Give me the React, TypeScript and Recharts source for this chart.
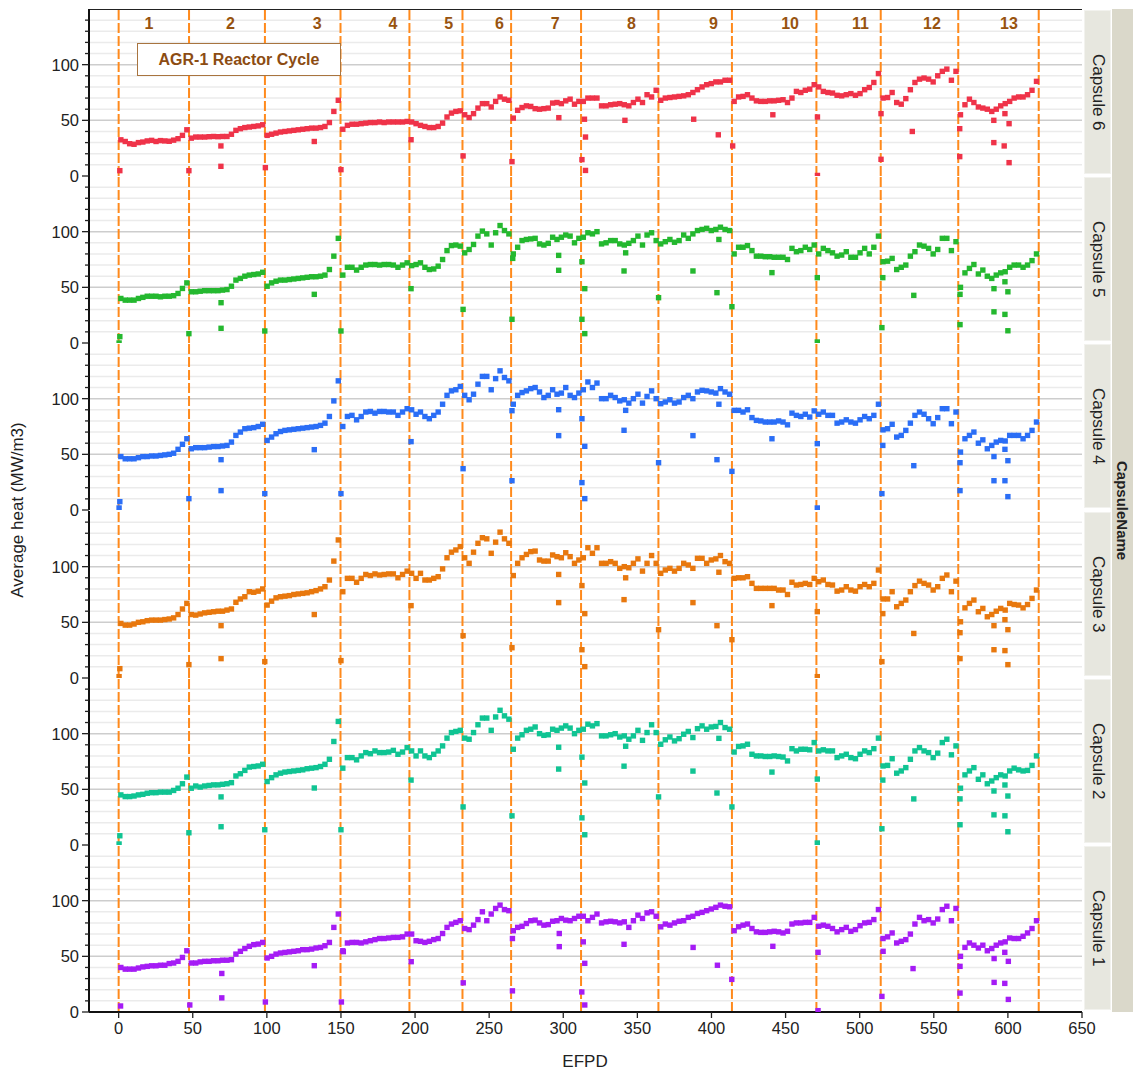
import React from 'react'
import { ScatterChart, Scatter, XAxis, YAxis, ReferenceLine } from 'recharts'

// EFPD at each ATR cycle boundary (orange dashed lines)
const cycleBounds = [0, 47.5, 98.7, 149.7, 196.2, 232, 264.8, 312, 364.2, 413.8, 470.8, 514.2, 566.5, 620.8]
const cycleNames = ['1', '2', '3', '4', '5', '6', '7', '8', '9', '10', '11', '12', '13']
const cycleLabelEfpd = [20.4, 75.4, 133.9, 185, 222.7, 257, 294.6, 346, 401.4, 453, 500.5, 548.8, 600.7]
const cycleLabelHeat = 137

const xTicks = [0, 50, 100, 150, 200, 250, 300, 350, 400, 450, 500, 550, 600, 650]
const yTicks = [0, 10, 20, 30, 40, 50, 60, 70, 80, 90, 100, 110, 120, 130, 140]
const gridMinor = [10, 20, 30, 40, 60, 70, 80, 90, 110, 120, 130, 140]
const gridMajor = [50, 100]

// average heat per cycle (one list per reactor cycle)
const capsule6 = [
  [32.5, 31, 29, 28.5, 30, 30.5, 31.5, 32, 31, 31.8, 31.5, 31.2, 32.2, 33.5, 36.5, 41.5],
  [34, 35, 35, 35, 35.3, 35.5, 35.3, 35.5, 35.5, 37.5, 41, 42.5, 43.5, 44, 44.5, 45, 46],
  [36.5, 37.5, 38.5, 39.5, 40, 40.5, 41, 41.5, 42, 42.5, 43, 43, 43.5, 44.5, 48, 58, 68],
  [42, 45.5, 46.5, 46.5, 47, 47.5, 48, 48, 48.5, 48, 48.5, 48.5, 48.5, 48.5, 49],
  [48.5, 47, 45.5, 44.5, 43.5, 43.5, 44.5, 47.5, 53, 56.5, 58, 58.5],
  [55, 52.5, 56, 61, 65, 65, 62, 67, 71, 69, 68],
  [52, 59, 61.5, 63, 62.5, 60.5, 60, 60.5, 61, 65.5, 66, 65, 67.5, 69, 64.5, 67],
  [67, 70, 70, 70, 63, 63, 64, 64.5, 65, 64, 63, 66, 69, 66, 73, 71, 77],
  [68, 70, 70.5, 71, 71.5, 72, 73, 75, 77.5, 80, 82, 83, 84.5, 84.5, 86, 86],
  [67, 71, 71.5, 73, 70, 67.5, 67, 67, 67.5, 67.5, 68, 68.5, 66, 70, 76, 75, 77, 78, 82],
  [80, 76, 75, 74.5, 72.5, 72, 73, 74, 72.5, 74, 77.5, 79.5, 84, 92],
  [70, 70.5, 75, 66, 64.5, 69.5, 77.5, 84, 87, 88, 87, 84.5, 90, 94, 96, 86, 94],
  [55, 64, 69, 66, 62, 61, 60, 58, 60, 63, 65, 67, 70, 71, 71, 73, 77, 85],
]
const capsule6Extra = [
  [0.8, 4.8], [47.4, 4.8], [69, 27], [69, 8.7], [99, 7.5], [132, 31], [150, 5.7], [197.3, 32.6],
  [232.4, 18], [265.4, 12.9], [297, 52.4], [312.6, 14.7], [314.3, 51], [315, 35], [315, 5],
  [341.6, 50], [388, 51], [404.6, 37], [414.3, 27], [441.4, 55], [471.5, 53], [471.5, 0.5],
  [514.4, 56], [514.4, 15], [535.5, 40], [567.5, 42.5], [567.5, 17.4], [590.5, 50], [590.5, 30],
  [598, 56], [600.8, 47], [597.5, 27], [600.8, 12],
]

const capsule5 = [
  [40, 38.5, 38.5, 38.5, 40, 41, 42, 42, 42, 41.5, 42, 42, 42.5, 44.5, 49, 54],
  [46, 46, 46.5, 47, 47, 47, 47, 47.5, 48, 51, 56.5, 58, 60, 61, 61.5, 62, 63.5],
  [51, 54, 55.5, 56.5, 56.5, 57, 57.5, 58, 58.5, 59, 59.5, 59.5, 60, 61, 66, 78, 94],
  [61, 68, 68, 65.5, 68, 70, 70.5, 70.5, 70, 70.5, 70.5, 70, 68, 70, 72],
  [69.5, 70.5, 72, 68, 66, 66.5, 69, 75, 83, 87.5, 88, 87],
  [81, 84, 88.5, 96, 100.5, 98, 88, 99, 105.5, 101, 98],
  [80, 86, 92, 93, 93.5, 94, 89, 88, 89.5, 95, 93, 95, 97, 96, 90, 94],
  [95, 99, 98, 100, 89, 90, 92, 92, 89, 88, 89.5, 92, 96, 88, 97, 99, 92],
  [89, 91, 93, 90.5, 92, 97, 94, 98, 101, 102, 103, 101, 102, 104, 102, 101],
  [80, 86, 86, 87.5, 83, 78, 78, 77.5, 77.5, 77, 77, 77, 75, 85, 82, 83, 86, 84, 88],
  [80, 85, 83, 81, 78, 79, 82, 77, 77, 81, 85, 80, 86, 96],
  [73, 73.5, 76, 66, 68, 70, 78, 82, 88, 87, 85, 80, 84, 94, 94, 83, 91],
  [50, 63, 67, 70.5, 62, 65.5, 60, 58, 61, 63, 64, 68, 70, 70, 68, 70, 74, 80],
]
const capsule5Extra = [
  [0.8, 5.7], [0.3, 0], [47.4, 8.4], [69.1, 36.2], [69.1, 13.2], [98.6, 10.8], [132, 43.7], [150, 10.8],
  [197.3, 48.8], [232.4, 30.2], [265.9, 76], [265.4, 21.3], [296.9, 78.7], [296.9, 65.3], [312.6, 73],
  [314.5, 48.8], [312.6, 21.3], [314.5, 8.4], [342.1, 81], [341, 64.7], [364.3, 40.7], [387.5, 64.7],
  [405, 93], [403.7, 45.2], [413.8, 32.6], [440.8, 63.2], [471.4, 58.7], [471.4, 0.9], [515.6, 58.7],
  [515, 13.8], [536.5, 42.8], [567.7, 43.7], [567.7, 16.5], [590.6, 48.8], [590.6, 28], [598, 55],
  [600, 46], [598, 25.7], [600, 11],
]

const capsule4 = [
  [48, 46, 46, 46, 47, 48, 48, 48.5, 48.5, 49, 49.5, 50, 51, 54.5, 59, 64],
  [55, 56, 56, 56, 56.5, 57, 57, 57.5, 58, 61, 67, 70, 73, 73.5, 74, 75, 77],
  [62.5, 65.5, 68.5, 70.5, 71.5, 72, 72.5, 73, 73.5, 74, 74.5, 75, 76, 78, 84, 98, 116],
  [75, 84, 85, 81, 84, 88, 88.5, 87, 88.5, 88.5, 88, 88, 85, 88, 91],
  [90, 86, 88, 84, 82, 85, 88, 95, 103, 107, 108, 111],
  [103, 99, 104, 113, 120, 120, 108, 118, 125, 119, 116],
  [95, 103, 105.5, 107, 109, 110, 106, 101, 103, 108, 104, 105, 110, 103, 101, 105],
  [108, 115, 110, 114, 100, 100, 103, 101, 98, 99, 96, 100, 104, 96, 102, 107, 100],
  [95.5, 97, 99, 96, 97, 101, 103, 100, 106, 107.5, 107, 106, 105, 109, 106, 104],
  [89.5, 89.5, 88, 90, 83, 80.5, 80, 79, 79, 79, 80, 79, 76.5, 87, 85, 84, 86, 83.5, 89],
  [86, 88, 85, 85, 78, 79, 81, 79, 78, 81, 84, 82, 85, 95],
  [72, 73, 77, 65.5, 67, 71.5, 78, 85, 88, 86, 82, 77.5, 83, 91, 91, 77.5, 88],
  [52, 64, 67, 70, 60, 63, 55, 58, 61, 62.5, 62, 67, 67, 67, 64, 67, 71.5, 79],
]
const capsule4Extra = [
  [0.8, 7.5], [0.3, 1.8], [47.4, 10.2], [69.1, 45.2], [69.1, 17.4], [98.6, 14.7], [132, 54.2], [150, 14.7],
  [197.3, 61.4], [232.4, 37.1], [265.4, 26.3], [265.4, 89.2], [296.9, 90.1], [296.9, 66.8], [312.6, 82],
  [314.5, 57.2], [312.6, 24.6], [314.5, 10.2], [341, 71.6], [342.1, 89.5], [364.3, 42.5], [387.5, 66.8],
  [405, 95], [403.7, 45.2], [413.8, 34.7], [440.8, 64], [471.4, 59.6], [471.4, 1.8], [515.6, 58],
  [515, 14.7], [536.5, 39.8], [567.7, 42.5], [567.7, 17.4], [590.6, 48], [590.6, 26.3], [598, 54.5],
  [600, 44.3], [598, 26.3], [600, 12],
]

const capsule3 = [
  [49, 47.5, 47.5, 48.5, 50, 50.5, 51.5, 52, 52, 52, 52.5, 53, 54, 57, 62, 67],
  [57, 56.5, 57.5, 58.5, 59, 59.5, 60, 60, 61, 62, 68, 71, 73, 77.5, 77, 78, 80],
  [65.5, 69, 72, 73, 73.5, 74, 75, 75.5, 76, 76.5, 77.5, 78.5, 80, 82, 88, 105, 124],
  [77.5, 89.5, 89.5, 86, 89.5, 93, 92, 93.5, 92.5, 93, 93.5, 93.5, 90, 93, 96],
  [94, 89.5, 94, 88, 88, 89.5, 91, 98, 108, 113, 115, 118],
  [108, 103, 113, 121, 126, 125, 112, 122, 131, 125, 121],
  [92, 103, 108, 111, 113.5, 114, 106, 105, 105, 110.5, 109, 108, 112.5, 109, 103, 106],
  [108, 117, 112, 117, 103, 103, 104.5, 103, 98.5, 100, 99, 103, 107, 96, 103, 110, 103],
  [94, 97, 98.5, 96, 98.5, 103, 101.5, 98.5, 107.5, 107.5, 103, 106, 107, 110, 104.5, 103],
  [89.5, 90, 90, 91, 85, 80.5, 80.5, 80.5, 80.5, 80.5, 79, 79, 75, 86, 83.5, 84, 85, 84, 89.5],
  [86.5, 88, 84, 83.5, 78, 79, 82, 79, 78, 82, 84, 82, 85, 97],
  [71, 71, 77.5, 64, 67, 70, 77.5, 83, 87, 85, 83.5, 79, 82, 89.5, 92.5, 77.5, 87],
  [50.5, 63, 67, 70, 59.5, 62.5, 55, 57, 60, 62.5, 61, 67, 66, 65.5, 63, 66, 71.5, 79],
]
const capsule3Extra = [
  [0.8, 8.4], [0.3, 1.2], [47.4, 12], [69.1, 47], [69.1, 17.4], [98.6, 14.7], [132, 57], [150, 15.6],
  [197.3, 65], [232.4, 38], [265.4, 27.2], [296.9, 93], [296.9, 67.7], [312.6, 83], [314.5, 57.8],
  [312.6, 25.4], [314.5, 10.2], [342.1, 90], [341, 70.4], [364.3, 43.4], [387.5, 67.7], [405, 95],
  [403.7, 47], [413.8, 34.4], [440.8, 65], [471.4, 59.6], [471.4, 1.2], [515.6, 57.8], [515, 14.7],
  [536.5, 40], [567.7, 40.7], [567.7, 17.4], [590.6, 47], [590.6, 25.4], [598, 52.4], [600, 43.4],
  [598, 24.6], [600, 12],
]

const capsule2 = [
  [45, 43.5, 43.5, 44, 45, 45.5, 46.5, 47, 47, 47.5, 47.5, 47.5, 49, 51, 55, 61],
  [51, 53, 52, 53, 53.5, 54, 54, 54.5, 55, 56, 62, 64, 67, 70, 70.5, 71, 72.5],
  [57, 60.5, 63, 64.5, 65.5, 66, 66.5, 67, 67.5, 68.5, 69, 69.5, 70.5, 72.5, 77, 93, 111],
  [69, 78.5, 78.5, 76.5, 80, 83, 82, 84.5, 83, 83, 83.5, 85, 81.5, 83.5, 87.5],
  [84.5, 80, 84.5, 80, 78.5, 81.5, 84.5, 89, 96, 101, 102, 103],
  [96, 95, 101, 108, 114, 114, 103, 115, 121, 116, 113],
  [86, 96, 99, 103, 104, 106, 100, 98.5, 99, 104, 103, 105, 107, 105, 100, 103],
  [104, 108.5, 107, 109, 98, 98, 99, 100, 97, 98, 95, 98, 103, 94, 101, 108, 101],
  [90.5, 94.5, 97, 93.5, 95.5, 99.5, 102, 96.5, 104.5, 107, 104, 106, 106.5, 110, 105.5, 104],
  [83.5, 88.5, 89, 90.5, 81.5, 80, 80, 79.5, 79.5, 80, 79.5, 79, 75.5, 86.5, 84.5, 86, 86, 85.5, 92],
  [84.5, 85.5, 84.5, 84.5, 78.5, 80, 81.5, 78.5, 77.5, 81.5, 84.5, 83, 86.5, 96],
  [71, 71.5, 77.5, 64.5, 66.5, 69.5, 77, 84.5, 87.5, 84.5, 83, 78.5, 82.5, 92, 95, 81, 89],
  [51, 63, 66.5, 69.5, 59, 63, 55, 57.5, 60.5, 63, 62, 66.5, 69, 67.5, 66.5, 67, 71.5, 80],
]
const capsule2Extra = [
  [0.8, 8.3], [0.3, 0.9], [47.4, 11], [69.1, 43.2], [69.1, 16.4], [98.6, 13.7], [132, 51.2], [150, 13.7],
  [197.3, 58.3], [232.4, 34.2], [265.4, 26.2], [296.9, 87.8], [296.9, 68.2], [312.6, 78.9], [314.5, 55.7],
  [312.6, 24.4], [314.5, 9.2], [342.1, 88.7], [341, 70.8], [364.3, 43.2], [387.5, 66.4], [405, 95.8],
  [403.7, 46.7], [413.8, 34.2], [440.8, 65.5], [471.4, 59.2], [471.4, 1.8], [515.6, 58.3], [515, 14.6],
  [536.5, 41.4], [567.7, 41.4], [567.7, 18.2], [590.6, 48.5], [590.6, 27.1], [598, 53.9], [600, 44],
  [598, 26.2], [600, 11.9],
]

const capsule1 = [
  [40, 38.5, 38.5, 38.5, 39.5, 40.5, 41, 41.5, 41.5, 42, 42, 43.5, 44, 45.5, 49, 55],
  [44, 44, 45, 45.5, 45.5, 46, 46, 46.5, 46.5, 47, 52, 54.5, 57, 59, 60.5, 61, 62.5],
  [48.5, 50, 52, 53, 53.5, 54, 54.5, 55, 56, 56, 56.5, 57.5, 58, 59.5, 62.5, 76, 88],
  [55, 62, 62.5, 62.5, 62, 63, 64, 65, 66, 66, 66.5, 67, 67, 67.5, 70],
  [70, 64, 63.5, 62.5, 63.5, 65, 66, 70.5, 76, 79, 80.5, 82],
  [75, 74, 78, 83, 90, 82, 88, 93, 96, 92, 91],
  [73, 76, 77, 79.5, 82, 82.5, 80, 78, 78.5, 81.5, 82, 84, 82.5, 82, 84, 86],
  [86, 82, 85, 88, 80, 81, 81.5, 81, 80, 81, 76, 82, 87, 84, 89, 90, 86],
  [76.5, 79, 78, 80, 81.5, 82, 85, 86, 88.5, 89.5, 91, 92.5, 94, 96, 95, 94.5],
  [73, 76.5, 78, 79, 75, 72, 71.5, 71.5, 72, 72.5, 72, 71, 72.5, 79, 80, 80, 80.5, 80.5, 85],
  [77, 78, 77, 75, 72, 74, 76, 72.5, 74, 77.5, 80, 80.5, 83, 92],
  [66, 67.5, 71, 62, 63.5, 65, 70, 79, 85, 82, 83, 80, 83.5, 92, 95, 82, 93],
  [50, 58, 62, 60, 57.5, 60, 55, 57, 60, 62, 63, 66.5, 66, 66, 68, 71, 75, 82],
]
const capsule1Extra = [
  [1.3, 5.4], [48, 6.3], [69.6, 34.6], [69.6, 12.7], [99, 9], [132, 41.6], [150.3, 9], [151.6, 54.2],
  [197.4, 45.2], [232.5, 26.2], [265.7, 19], [265.7, 66], [297.3, 70.5], [297.3, 58.7], [312.5, 18],
  [313.5, 63], [314.5, 43.7], [314.5, 6.3], [341, 60.8], [387.6, 58], [404, 42], [413.7, 29.3],
  [441.4, 59], [471.9, 53.6], [471.9, 1.2], [515.8, 54.5], [515, 14], [536, 39], [567.7, 41],
  [567.7, 17], [590.7, 48], [590.7, 26.6], [597.9, 53.6], [600.3, 45.5], [597.9, 25.7], [600.3, 11.3],
]

const capsules = [
  { name: 'Capsule 6', color: '#ef3349', main: capsule6, extra: capsule6Extra },
  { name: 'Capsule 5', color: '#24b82f', main: capsule5, extra: capsule5Extra },
  { name: 'Capsule 4', color: '#2b6ef6', main: capsule4, extra: capsule4Extra },
  { name: 'Capsule 3', color: '#e8780e', main: capsule3, extra: capsule3Extra },
  { name: 'Capsule 2', color: '#10c493', main: capsule2, extra: capsule2Extra },
  { name: 'Capsule 1', color: '#a51cf5', main: capsule1, extra: capsule1Extra },
]

const FONT = 'Arial, "Liberation Sans", Helvetica, sans-serif'
const BROWN = '#98530f'
const PANEL_H = 167
const X_AXIS_H = 45
const BOTTOM_PAD = 12 // room for the "0" label that hangs below each panel

// spread each cycle's daily readings across that cycle
function buildPoints(main: number[][], extra: number[][]) {
  const pts: { efpd: number; heat: number }[] = []
  main.forEach((vals, c) => {
    const start = cycleBounds[c]
    const step = (cycleBounds[c + 1] - start) / vals.length
    vals.forEach((v, i) => pts.push({ efpd: start + step * (i + 0.5), heat: v }))
  })
  extra.forEach(([x, y]) => pts.push({ efpd: x, heat: y }))
  return pts
}

const labelPoints = cycleNames.map((n, i) => ({ efpd: cycleLabelEfpd[i], heat: cycleLabelHeat, label: n }))

const squareShape = (color: string) => (props: any) => (
  <rect x={props.cx - 2.7} y={props.cy - 2.7} width={5.4} height={5.4} fill={color} />
)

const CycleLabel = (props: any) => (
  <text x={props.cx} y={props.cy} dy={6} textAnchor="middle" fontSize={16} fontWeight="bold"
    fontFamily={FONT} fill={BROWN}>
    {props.payload.label}
  </text>
)

const YTick = (props: any) => {
  const { x, y, payload } = props
  const major = payload.value % 50 === 0
  return (
    <g>
      <line x1={x - (major ? 7 : 4)} x2={x} y1={y} y2={y} stroke="#222" strokeWidth={1.3} />
      {major && (
        <text x={x - 10} y={y} dy={6} textAnchor="end" fontSize={16.5} fontFamily={FONT} fill="#222">
          {payload.value}
        </text>
      )}
    </g>
  )
}

function CapsulePanel({ capsule, index, last }: { capsule: any; index: number; last: boolean }) {
  const points = buildPoints(capsule.main, capsule.extra)
  return (
    <ScatterChart width={1110} height={last ? PANEL_H + X_AXIS_H : PANEL_H + BOTTOM_PAD}
      margin={{ top: 0, right: 28, bottom: last ? 0 : BOTTOM_PAD, left: 0 }}>
      {gridMinor.map(v => <ReferenceLine key={'g' + v} y={v} stroke="#ebebeb" strokeWidth={1.5} />)}
      {gridMajor.map(v => <ReferenceLine key={'G' + v} y={v} stroke="#cdcdcd" strokeWidth={1.5} />)}
      {index === 0 && <ReferenceLine y={150} stroke="#222" strokeWidth={2} />}
      {cycleBounds.map(b => (
        <ReferenceLine key={'c' + b} x={b} stroke="#ff8a1c" strokeWidth={2} strokeDasharray="10 3" />
      ))}
      <XAxis
        type="number"
        dataKey="efpd"
        domain={[-20, 650]}
        allowDataOverflow
        ticks={xTicks}
        interval={0}
        height={last ? X_AXIS_H : 0}
        tick={last ? { fontSize: 16.5, fill: '#222', fontFamily: FONT } : false}
        tickLine={last ? { stroke: '#222', strokeWidth: 1.3 } : false}
        tickSize={6}
        tickMargin={4}
        axisLine={{ stroke: last ? '#111' : '#333', strokeWidth: 2 }}
      />
      <YAxis
        type="number"
        dataKey="heat"
        domain={[0, 150]}
        allowDataOverflow
        ticks={yTicks}
        interval={0}
        width={89}
        tickSize={0}
        tickMargin={0}
        tickLine={false}
        tick={<YTick />}
        axisLine={{ stroke: '#111', strokeWidth: 2 }}
      />
      <Scatter data={points} fill={capsule.color} shape={squareShape(capsule.color)} isAnimationActive={false} />
      {index === 0 && <Scatter data={labelPoints} shape={<CycleLabel />} isAnimationActive={false} />}
    </ScatterChart>
  )
}

export default function App() {
  return (
    <div style={{ position: 'relative', width: 1133, height: 1072, background: '#fff', fontFamily: FONT, color: '#222' }}>
      <style>{'body{margin:0}'}</style>
      {capsules.map((c, k) => {
        const top = Math.round(9 + 167.2 * k)
        return (
          <div key={c.name} style={{ position: 'absolute', left: 0, top }}>
            <CapsulePanel capsule={c} index={k} last={k === capsules.length - 1} />
          </div>
        )
      })}
      {capsules.map((c, k) => {
        const top = Math.round(9 + 167.2 * k)
        return (
          <div key={'s' + c.name} style={{
            position: 'absolute', left: 1084, top: top + 1, width: 27, height: PANEL_H - 3,
            background: '#e7e7df', border: '1px solid #f2f2ee', boxSizing: 'border-box',
            display: 'flex', alignItems: 'center', justifyContent: 'center',
          }}>
            <span style={{ writingMode: 'vertical-rl', fontSize: 17 }}>{c.name}</span>
          </div>
        )
      })}
      <div style={{
        position: 'absolute', left: 1112, top: 9, width: 21, height: 1003, background: '#dad8ca',
        display: 'flex', alignItems: 'center', justifyContent: 'center',
      }}>
        <span style={{ writingMode: 'vertical-rl', fontSize: 15, fontWeight: 'bold' }}>CapsuleName</span>
      </div>
      <div style={{
        position: 'absolute', left: 137, top: 43, width: 204, height: 33, boxSizing: 'border-box',
        border: '1.5px solid #a8743f', background: '#fff', color: '#8c4c12', fontWeight: 'bold', fontSize: 16,
        display: 'flex', alignItems: 'center', justifyContent: 'center',
      }}>
        AGR-1 Reactor Cycle
      </div>
      <div style={{
        position: 'absolute', left: 18, top: 510, transform: 'translate(-50%, -50%) rotate(-90deg)',
        whiteSpace: 'nowrap', fontSize: 17,
      }}>
        Average heat (MW/m3)
      </div>
      <div style={{ position: 'absolute', left: 585, top: 1062, transform: 'translate(-50%, -50%)', fontSize: 17 }}>
        EFPD
      </div>
    </div>
  )
}
